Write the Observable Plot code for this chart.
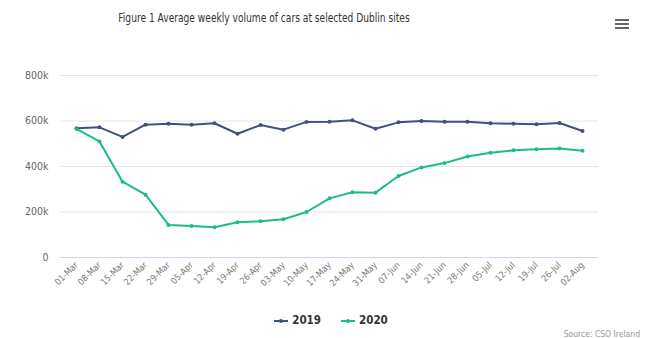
<!DOCTYPE html>
<html>
<head>
<meta charset="utf-8">
<script src="https://cdn.jsdelivr.net/npm/d3@7"></script>
<script src="https://cdn.jsdelivr.net/npm/@observablehq/plot@0.6"></script>
<style>
  html, body { margin: 0; padding: 0; background: #fff; }
  body { width: 650px; height: 338px; position: relative; overflow: hidden; font-family: "DejaVu Sans", sans-serif; font-stretch: condensed; }
  #title { position: absolute; top: 11px; left: 0; width: 528px; text-align: center; font-size: 11.5px; color: #333; font-stretch: condensed; transform: scaleX(0.88); transform-origin: 264px 0; }
  #menu { position: absolute; left: 615px; top: 19px; width: 14px; }
  #menu div { height: 2px; background: #666; margin-bottom: 2px; }
  #chart { position: absolute; top: 40px; left: 0; }
  #legend { position: absolute; top: 313px; left: 6px; width: 650px; text-align: center; font-size: 11.5px; font-weight: bold; color: #333; }
  #legend span.item { display: inline-block; margin: 0 10px; }
  #legend svg { vertical-align: middle; margin-right: 4px; }
  #source { position: absolute; top: 329px; right: 10px; font-size: 8.5px; color: #999; }
</style>
</head>
<body>
<div id="title">Figure 1 Average weekly volume of cars at selected Dublin sites</div>
<div id="menu"><div></div><div></div><div></div></div>
<div id="chart"></div>
<div id="legend"></div>
<div id="source">Source: CSO Ireland</div>
<script>
const weeks = ["01-Mar","08-Mar","15-Mar","22-Mar","29-Mar","05-Apr","12-Apr","19-Apr","26-Apr","03-May","10-May","17-May","24-May","31-May","07-Jun","14-Jun","21-Jun","28-Jun","05-Jul","12-Jul","19-Jul","26-Jul","02-Aug"];
const values2019 = [568000,572000,530000,584000,588000,584000,590000,544000,582000,562000,596000,597000,603000,566000,594000,600000,597000,597000,590000,588000,586000,591000,556000];
const values2020 = [565000,510000,333000,276000,143000,139000,133000,155000,159000,168000,200000,260000,287000,285000,358000,396000,415000,444000,460000,471000,476000,479000,469000];
const seriesNames = ["2019","2020"];
const seriesColors = ["#434f7f","#1dbb8c"];
const yTicks = [0,200000,400000,600000,800000];
const yTickLabels = ["0","200k","400k","600k","800k"];

const rows = [];
weeks.forEach((w,i) => {
  rows.push({week: w, value: values2019[i], series: seriesNames[0]});
  rows.push({week: w, value: values2020[i], series: seriesNames[1]});
});

const plot = Plot.plot({
  width: 650,
  height: 260,
  marginTop: 35,
  marginBottom: 43,
  marginLeft: 60,
  marginRight: 52,
  style: {fontFamily: "'DejaVu Sans', sans-serif", fontStretch: "condensed", fontSize: "10px", color: "#666", background: "transparent"},
  x: {type: "point", domain: weeks, padding: 0.5, label: null},
  y: {domain: [0, 800000], label: null},
  color: {domain: seriesNames, range: seriesColors},
  marks: [
    Plot.gridY(yTicks.slice(1), {stroke: "#e6e6e6", strokeOpacity: 1, strokeWidth: 1}),
    Plot.ruleY([0], {stroke: "#ccd6eb", strokeWidth: 1}),
    Plot.axisY(yTicks, {tickSize: 0, tickPadding: 12, tickFormat: (d) => yTickLabels[yTicks.indexOf(d)], fontSize: 10.5, fill: "#666", label: null}),
    Plot.axisX(weeks, {tickSize: 0, tickRotate: -45, tickPadding: 6, fontSize: 9, fill: "#777", label: null}),
    Plot.line(rows, {x: "week", y: "value", z: "series", stroke: "series", strokeWidth: 2}),
    Plot.dot(rows, {x: "week", y: "value", fill: "series", r: 2})
  ]
});
document.getElementById("chart").appendChild(plot);

const legend = document.getElementById("legend");
seriesNames.forEach((s,i) => {
  const span = document.createElement("span");
  span.className = "item";
  span.innerHTML = `<svg width="14" height="10"><line x1="0" y1="5" x2="14" y2="5" stroke="${seriesColors[i]}" stroke-width="2"/><circle cx="7" cy="5" r="2" fill="${seriesColors[i]}"/></svg>${s}`;
  legend.appendChild(span);
});
</script>
</body>
</html>
